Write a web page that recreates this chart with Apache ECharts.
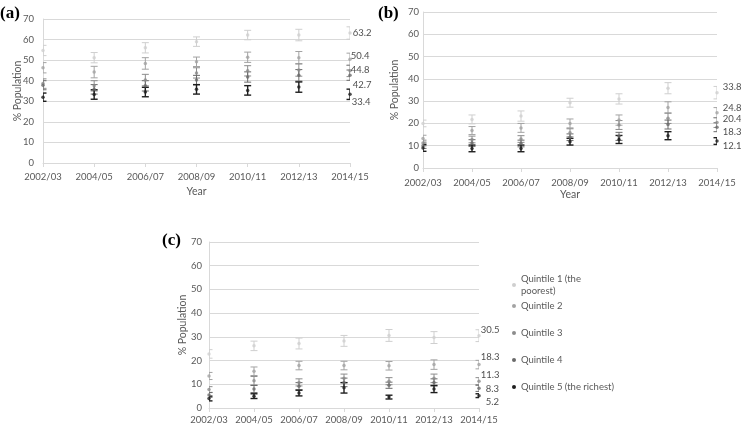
<!DOCTYPE html>
<html>
<head>
<meta charset="utf-8">
<script src="https://cdn.jsdelivr.net/npm/echarts@6/dist/echarts.min.js"></script>
<style>
html,body{margin:0;padding:0;background:#fff;}
#main{width:741px;height:426px;}
</style>
</head>
<body>
<div id="main"></div>
<script>
// ---------- DATA ----------
const categories = ['2002/03','2004/05','2006/07','2008/09','2010/11','2012/13','2014/15'];
const quintiles = ['Quintile 1 (the poorest)','Quintile 2','Quintile 3','Quintile 4','Quintile 5 (the richest)'];
const panelLabels = ['(a)','(b)','(c)'];

// Panel (a)
const a_q1 = [54.7, 51.2, 56.0, 59.0, 62.2, 62.2, 63.2];
const a_q2 = [46.3, 44.2, 48.4, 49.2, 51.4, 51.2, 50.4];
const a_q3 = [38.6, 37.5, 40.3, 43.8, 44.8, 45.2, 44.8];
const a_q4 = [37.8, 35.8, 37.5, 40.3, 41.8, 42.6, 42.7];
const a_q5 = [32.0, 33.3, 34.5, 35.8, 35.3, 36.9, 33.4];
const a_e1 = [2.5, 2.5, 2.5, 2.3, 2.3, 2.8, 3.0];
const a_e2 = [2.5, 2.8, 2.8, 2.3, 2.5, 3.0, 3.0];
const a_e3 = [2.3, 2.5, 2.8, 2.5, 2.5, 3.0, 2.8];
const a_e4 = [2.2, 2.3, 2.5, 2.3, 2.5, 2.8, 2.5];
const a_e5 = [2.0, 2.3, 2.3, 2.3, 2.3, 2.5, 2.5];

// Panel (b)
const b_q1 = [20.0, 21.8, 23.3, 29.3, 31.0, 35.8, 33.8];
const b_q2 = [13.2, 16.8, 18.0, 20.0, 21.5, 27.2, 24.8];
const b_q3 = [11.2, 12.8, 13.0, 15.8, 19.3, 22.3, 20.4];
const b_q4 = [10.0, 11.2, 11.0, 13.8, 14.2, 19.5, 18.3];
const b_q5 = [9.0, 8.8, 8.8, 11.8, 12.8, 14.5, 12.1];
const b_e1 = [1.5, 2.0, 2.3, 2.0, 2.3, 2.5, 2.8];
const b_e2 = [1.5, 1.8, 2.0, 2.0, 2.3, 2.5, 2.3];
const b_e3 = [1.3, 1.5, 1.5, 1.8, 2.0, 2.3, 2.2];
const b_e4 = [1.2, 1.5, 1.5, 1.5, 1.8, 2.0, 2.0];
const b_e5 = [1.5, 1.5, 1.5, 1.5, 1.8, 1.8, 1.5];

// Panel (c)
const c_q1 = [22.8, 26.2, 27.2, 28.3, 30.6, 29.7, 30.5];
const c_q2 = [13.5, 15.5, 17.9, 17.9, 17.8, 18.3, 18.3];
const c_q3 = [7.8, 11.5, 10.8, 12.5, 11.3, 12.5, 11.3];
const c_q4 = [5.5, 8.0, 9.2, 10.8, 9.6, 10.8, 8.3];
const c_q5 = [4.0, 5.0, 6.3, 8.5, 4.6, 8.0, 5.2];
const c_e1 = [1.8, 2.0, 2.3, 2.3, 2.5, 2.5, 2.5];
const c_e2 = [1.5, 1.8, 1.8, 1.8, 1.8, 2.0, 1.8];
const c_e3 = [1.2, 1.8, 1.5, 1.8, 1.5, 1.8, 1.5];
const c_e4 = [1.0, 1.5, 1.5, 1.8, 1.3, 1.5, 1.3];
const c_e5 = [1.0, 1.0, 1.2, 2.2, 0.8, 1.5, 0.8];

const yMin = 0, yMax = 70, yStep = 10;

// ---------- STYLE / LAYOUT ----------
const colors = ['#cfcfcf','#a3a3a3','#8c8c8c','#6a6a6a','#1e1e1e'];
const errWidths = [1, 1, 1, 1, 1.4];
const FONT = 'Lato';
const panels = [
  {vals:[a_q1,a_q2,a_q3,a_q4,a_q5], errs:[a_e1,a_e2,a_e3,a_e4,a_e5],
   grid:{left:43, top:19, width:307, height:144},
   yLabelMargin:9, xLabelMargin:9, yNameGap:20, xNameGap:23, showYear:true,
   lab:[[1,0],[-1,-3],[-1,-1],[1,10],[0,8]]},
  {vals:[b_q1,b_q2,b_q3,b_q4,b_q5], errs:[b_e1,b_e2,b_e3,b_e4,b_e5],
   grid:{left:423, top:12, width:294, height:156},
   yLabelMargin:4, xLabelMargin:10, yNameGap:23, xNameGap:21, showYear:true,
   lab:[[4,-6],[4,-5],[4,-4],[4,5],[4,5]]},
  {vals:[c_q1,c_q2,c_q3,c_q4,c_q5], errs:[c_e1,c_e2,c_e3,c_e4,c_e5],
   grid:{left:209, top:242, width:270, height:166},
   yLabelMargin:7, xLabelMargin:7, yNameGap:21, xNameGap:23, showYear:false,
   lab:[[0,-6],[0,-8],[0,-6],[5,1],[5,6]]}
];

const grids = [], xAxes = [], yAxes = [], series = [];
panels.forEach((p, pi) => {
  grids.push(Object.assign({containLabel:false, outerBoundsMode:'none'}, p.grid));
  xAxes.push({
    type:'category', gridIndex:pi, data:categories, boundaryGap:false,
    axisLine:{show:true, lineStyle:{color:'#d9d9d9', width:1}},
    axisTick:{show:true, length:4, lineStyle:{color:'#d9d9d9'}},
    axisLabel:{color:'#595959', fontSize:9.5, fontFamily:FONT, margin:p.xLabelMargin, interval:0,
               alignMinLabel:'center', alignMaxLabel:'center', hideOverlap:false},
    splitLine:{show:false},
    name: p.showYear ? 'Year' : '', nameLocation:'middle', nameGap:p.xNameGap,
    nameMoveOverlap:false,
    nameTextStyle:{color:'#595959', fontSize:10.5, fontFamily:FONT}
  });
  yAxes.push({
    type:'value', gridIndex:pi, min:yMin, max:yMax, interval:yStep,
    axisLine:{show:true, lineStyle:{color:'#d9d9d9'}},
    axisTick:{show:false},
    axisLabel:{color:'#595959', fontSize:9.5, fontFamily:FONT, margin:p.yLabelMargin},
    splitLine:{show:true, lineStyle:{color:'#d9d9d9', width:1}},
    name:'% Population', nameLocation:'middle', nameGap:p.yNameGap, nameRotate:90,
    nameMoveOverlap:false,
    nameTextStyle:{color:'#595959', fontSize:10.5, fontFamily:FONT}
  });
  p.vals.forEach((vals, qi) => {
    const errs = p.errs[qi];
    const color = colors[qi], lw = errWidths[qi];
    series.push({
      type:'custom', name:quintiles[qi], xAxisIndex:pi, yAxisIndex:pi, clip:true,
      itemStyle:{color:color},
      data: vals.map((v,i)=>[i, v, errs[i]]),
      encode:{x:0, y:1},
      renderItem: function(params, api){
        const x = api.value(0), v = api.value(1), e = api.value(2);
        const t = api.coord([x, v + e]);
        const b = api.coord([x, v - e]);
        const hw = 3.5;
        const st = {stroke:color, lineWidth:lw, fill:null};
        return {type:'group', children:[
          {type:'line', shape:{x1:t[0], y1:t[1], x2:b[0], y2:b[1]}, style:st},
          {type:'line', shape:{x1:t[0]-hw, y1:t[1], x2:t[0]+hw, y2:t[1]}, style:st},
          {type:'line', shape:{x1:b[0]-hw, y1:b[1], x2:b[0]+hw, y2:b[1]}, style:st}
        ]};
      },
      z:2
    });
    const last = vals.length - 1;
    series.push({
      type:'scatter', name:quintiles[qi], xAxisIndex:pi, yAxisIndex:pi,
      symbol:'circle', symbolSize:3.5,
      itemStyle:{color:color},
      data: vals.map((v,i)=> i === last ? {
        value:v,
        label:{show:true, position:'right', distance:0, offset:p.lab[qi],
               formatter: (d)=> d.value.toFixed(1),
               color:'#1a1a1a', fontSize:9.5, fontFamily:FONT}
      } : v),
      z:3
    });
  });
});

const chart = echarts.init(document.getElementById('main'), null, {renderer:'canvas'});
chart.setOption({
  animation:false,
  backgroundColor:'#ffffff',
  grid:grids, xAxis:xAxes, yAxis:yAxes, series:series,
  legend:[
    {data:[quintiles[0]], orient:'vertical', left:507, top:268,
     icon:'circle', itemWidth:4, itemHeight:4,
     formatter: n => 'Quintile 1 (the\npoorest)',
     textStyle:{color:'#595959', fontSize:9.5, fontFamily:FONT, lineHeight:12}},
    {data:quintiles.slice(1), orient:'vertical', left:507, top:295, itemGap:15,
     icon:'circle', itemWidth:4, itemHeight:4,
     textStyle:{color:'#595959', fontSize:9.5, fontFamily:FONT, lineHeight:12}}
  ],
  graphic:[
    {type:'text', left:0, top:5, style:{text:panelLabels[0], font:'bold 17px "Liberation Serif"', fill:'#000'}},
    {type:'text', left:378, top:5, style:{text:panelLabels[1], font:'bold 17px "Liberation Serif"', fill:'#000'}},
    {type:'text', left:162, top:232, style:{text:panelLabels[2], font:'bold 17px "Liberation Serif"', fill:'#000'}}
  ]
});
</script>
</body>
</html>
